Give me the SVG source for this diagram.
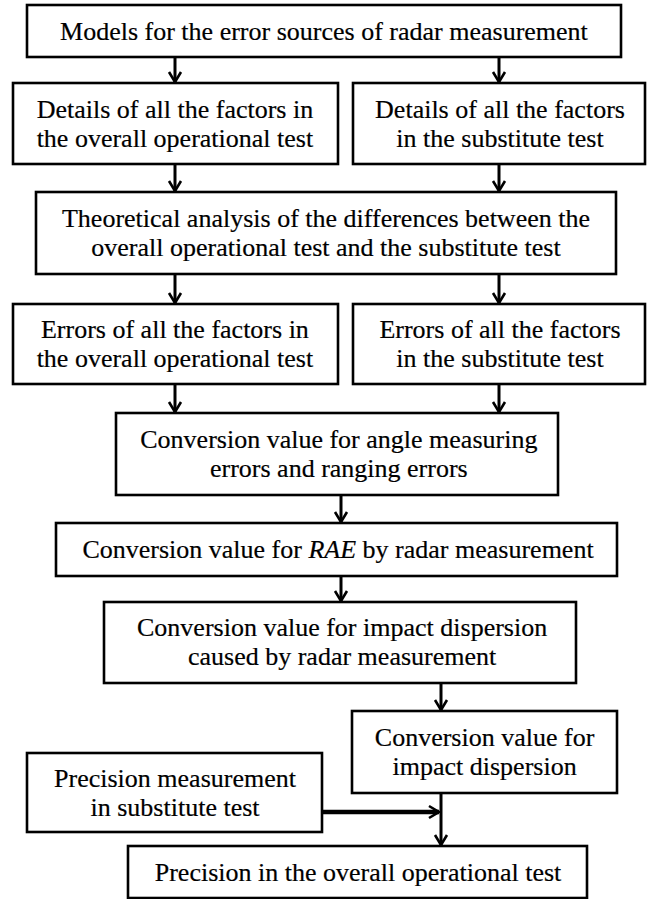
<svg xmlns="http://www.w3.org/2000/svg" width="650" height="899" viewBox="0 0 650 899">
<style>
.box{fill:#fff;stroke:#000;stroke-width:2.6}
.lbl{font-size:25.5px;fill:#000;text-anchor:middle;stroke:#000;stroke-width:0.2}
.arr{stroke:#000;stroke-width:3;fill:none}
.arrT{stroke:#000;stroke-width:4.5;fill:none}
</style>
<defs>
<marker id="ah" markerUnits="userSpaceOnUse" markerWidth="16" markerHeight="16" viewBox="-12 -8 14 16" refX="0" refY="0" orient="auto">
<path d="M-10,-6 L0,0 L-10,6" fill="none" stroke="#000" stroke-width="2.6"/>
</marker>
</defs>
<g id="connectors">
<line class="arr" x1="175" y1="57" x2="175" y2="82" marker-end="url(#ah)"/>
<line class="arr" x1="499" y1="57" x2="499" y2="82" marker-end="url(#ah)"/>
<line class="arr" x1="175" y1="164" x2="175" y2="191" marker-end="url(#ah)"/>
<line class="arr" x1="499" y1="164" x2="499" y2="191" marker-end="url(#ah)"/>
<line class="arr" x1="175" y1="274" x2="175" y2="303" marker-end="url(#ah)"/>
<line class="arr" x1="499" y1="274" x2="499" y2="303" marker-end="url(#ah)"/>
<line class="arr" x1="175" y1="384" x2="175" y2="412" marker-end="url(#ah)"/>
<line class="arr" x1="499" y1="384" x2="499" y2="412" marker-end="url(#ah)"/>
<line class="arr" x1="341" y1="495" x2="341" y2="522" marker-end="url(#ah)"/>
<line class="arr" x1="341" y1="576" x2="341" y2="601" marker-end="url(#ah)"/>
<line class="arr" x1="441" y1="683" x2="441" y2="710" marker-end="url(#ah)"/>
<line class="arr" x1="441" y1="793" x2="441" y2="845" marker-end="url(#ah)"/>
<line class="arrT" x1="322" y1="812" x2="439" y2="812" marker-end="url(#ah)"/>
</g>
<g id="n1"><rect class="box" x="27" y="5" width="594" height="52"/></g>
<g id="n2"><rect class="box" x="13" y="83" width="325" height="81"/></g>
<g id="n3"><rect class="box" x="353" y="83" width="292" height="81"/></g>
<g id="n4"><rect class="box" x="36" y="192" width="580" height="82"/></g>
<g id="n5"><rect class="box" x="13" y="304" width="325" height="80"/></g>
<g id="n6"><rect class="box" x="353" y="304" width="292" height="80"/></g>
<g id="n7"><rect class="box" x="116" y="413" width="442" height="82"/></g>
<g id="n8"><rect class="box" x="56" y="523" width="561" height="53"/></g>
<g id="n9"><rect class="box" x="104" y="602" width="472" height="81"/></g>
<g id="n10"><rect class="box" x="352" y="711" width="265" height="82"/></g>
<g id="n11"><rect class="box" x="27" y="753" width="295" height="79"/></g>
<g id="n12"><rect class="box" x="128" y="846" width="459" height="52"/></g>
<g id="labels" transform="scale(1.02,1)" font-family="'Liberation Serif', 'Times New Roman', Times, serif">
<text class="lbl" x="317.6" y="40">Models for the error sources of radar measurement</text>
<text class="lbl" x="171.5" y="118">Details of all the factors in</text>
<text class="lbl" x="171.5" y="147">the overall operational test</text>
<text class="lbl" x="490.2" y="118">Details of all the factors</text>
<text class="lbl" x="490.2" y="147">in the substitute test</text>
<text class="lbl" x="319.6" y="227">Theoretical analysis of the differences between the</text>
<text class="lbl" x="319.6" y="256">overall operational test and the substitute test</text>
<text class="lbl" x="171.5" y="338">Errors of all the factors in</text>
<text class="lbl" x="171.5" y="367">the overall operational test</text>
<text class="lbl" x="490.2" y="338">Errors of all the factors</text>
<text class="lbl" x="490.2" y="367">in the substitute test</text>
<text class="lbl" x="332.2" y="448">Conversion value for angle measuring</text>
<text class="lbl" x="332.2" y="477">errors and ranging errors</text>
<text class="lbl" x="331.4" y="558">Conversion value for <tspan font-style="italic">RAE</tspan> by radar measurement</text>
<text class="lbl" x="335.4" y="636">Conversion value for impact dispersion</text>
<text class="lbl" x="335.4" y="665">caused by radar measurement</text>
<text class="lbl" x="475.1" y="746">Conversion value for</text>
<text class="lbl" x="475.1" y="775">impact dispersion</text>
<text class="lbl" x="171.6" y="787">Precision measurement</text>
<text class="lbl" x="171.6" y="816">in substitute test</text>
<text class="lbl" x="351" y="881">Precision in the overall operational test</text>
</g>
</svg>
